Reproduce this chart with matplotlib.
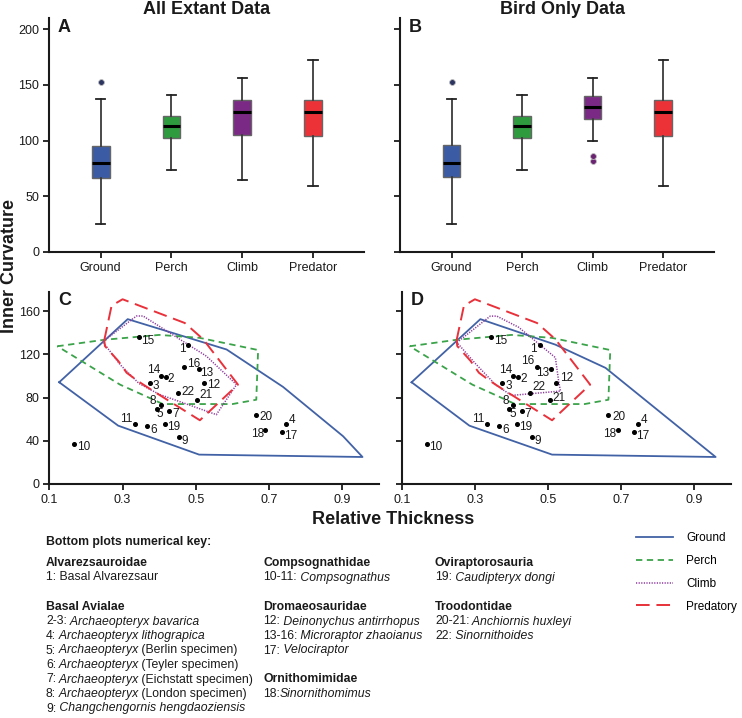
import matplotlib
matplotlib.use('Agg')
import matplotlib.pyplot as plt

plt.rcParams['font.family'] = ['Liberation Sans', 'DejaVu Sans']

# ---------------- data ----------------
categories = ['Ground', 'Perch', 'Climb', 'Predator']
box_colors = ['#3B5BA5', '#2E9B3F', '#7A2A85', '#EC3237']
flier_colors = ['#2C3560', '#2E9B3F', '#6A2370', '#EC3237']

# Panel A: all extant data
a_whislo = [25, 74, 65, 59]
a_q1 = [66, 102, 105, 104]
a_med = [80, 113, 126, 126]
a_q3 = [95, 122, 136, 136]
a_whishi = [137, 141, 156, 172]
a_fliers = [[153], [], [], []]

# Panel B: bird only data
b_whislo = [25, 74, 100, 59]
b_q1 = [67, 102, 119, 104]
b_med = [80, 113, 130, 126]
b_q3 = [96, 122, 140, 136]
b_whishi = [137, 141, 156, 172]
b_fliers = [[153], [], [82, 86], []]

# Fossil specimens (bottom panels)
pt_labels = ['1', '2', '3', '4', '5', '6', '7', '8', '9', '10', '11',
             '12', '13', '14', '15', '16', '17', '18', '19', '20', '21', '22']
pt_x = [0.479, 0.419, 0.375, 0.747, 0.393, 0.366, 0.428, 0.405, 0.455, 0.168, 0.333,
        0.523, 0.508, 0.405, 0.345, 0.469, 0.736, 0.690, 0.415, 0.665, 0.504, 0.451]
pt_y = [128.5, 99.2, 93.3, 55.3, 69.5, 54.0, 68.0, 72.9, 43.9, 37.4, 55.9,
        93.9, 106.0, 99.8, 136.5, 108.4, 48.2, 50.3, 55.3, 64.2, 78.1, 84.0]

# Convex hulls of extant groups
c_ground_x = [0.127, 0.314, 0.584, 0.738, 0.902, 0.955, 0.509, 0.288]
c_ground_y = [94.2, 152.6, 124.5, 89.9, 44.2, 25.0, 27.2, 54.0]
d_ground_x = [0.127, 0.315, 0.520, 0.657, 0.958, 0.511, 0.285]
d_ground_y = [94.2, 152.6, 129.0, 107.5, 25.0, 27.2, 54.0]

perch_x = [0.122, 0.250, 0.400, 0.510, 0.670, 0.665, 0.600, 0.410, 0.365, 0.293]
perch_y = [127.5, 133.5, 138.0, 135.3, 124.0, 78.0, 74.0, 74.0, 81.0, 92.0]

pred_x = [0.250, 0.270, 0.300, 0.470, 0.520, 0.615, 0.511, 0.384, 0.343, 0.311, 0.288, 0.252]
pred_y = [133.0, 165.0, 171.0, 149.0, 134.0, 92.0, 59.0, 86.0, 95.0, 103.0, 114.0, 127.6]

c_climb_x = [0.247, 0.338, 0.356, 0.529, 0.611, 0.556, 0.400, 0.345, 0.293, 0.252]
c_climb_y = [132.0, 155.5, 155.5, 118.3, 92.0, 64.2, 83.0, 93.0, 110.6, 129.0]
d_climb_x = [0.251, 0.342, 0.360, 0.420, 0.520, 0.529, 0.534, 0.400, 0.356, 0.300]
d_climb_y = [131.0, 155.4, 155.4, 145.0, 117.0, 95.0, 86.0, 82.0, 92.0, 112.0]

legend_labels = ['Ground', 'Perch', 'Climb', 'Predatory']

# ---------------- layout ----------------
W, H = 742, 718
fig = plt.figure(figsize=(W / 100, H / 100), dpi=100)


def rect(l, t, r, b):
    return [l / W, 1 - b / H, (r - l) / W, (b - t) / H]


axA = fig.add_axes(rect(49, 18, 364, 252))
axB = fig.add_axes(rect(400, 18, 714, 252))
axC = fig.add_axes(rect(49.3, 291.7, 379, 484))
axD = fig.add_axes(rect(401.7, 291.7, 731, 484))

TXT = '#1a1a1a'
for ax in (axA, axB, axC, axD):
    for s in ('top', 'right'):
        ax.spines[s].set_visible(False)
    for s in ('left', 'bottom'):
        ax.spines[s].set_linewidth(1.5)
        ax.spines[s].set_color('#1a1a1a')
    ax.tick_params(direction='out', length=4, width=1.3, labelsize=9,
                   colors='#1a1a1a', labelcolor=TXT, pad=3)


def draw_box(ax, lo, q1, med, q3, hi, fl):
    stats = []
    for i, c in enumerate(categories):
        stats.append(dict(label=c, whislo=lo[i], q1=q1[i], med=med[i],
                          q3=q3[i], whishi=hi[i], fliers=fl[i]))
    bp = ax.bxp(stats, positions=[1, 2, 3, 4], widths=0.25, capwidths=0.13,
                patch_artist=True, showfliers=True,
                medianprops=dict(color='black', lw=2.2),
                whiskerprops=dict(color='#3a3a3a', lw=1.3),
                capprops=dict(color='#222222', lw=1.3),
                boxprops=dict(lw=1.0),
                flierprops=dict(marker='o', markersize=4.2, markeredgewidth=0.6))
    for patch, c in zip(bp['boxes'], box_colors):
        patch.set_facecolor(c)
        patch.set_edgecolor('#666666')
    for f, c in zip(bp['fliers'], flier_colors):
        f.set_markerfacecolor(c)
        f.set_markeredgecolor('#bbbbbb')
    ax.set_xlim(0.27, 4.72)
    ax.set_ylim(0, 210)
    ax.set_yticks([0, 50, 100, 150, 200])


draw_box(axA, a_whislo, a_q1, a_med, a_q3, a_whishi, a_fliers)
draw_box(axB, b_whislo, b_q1, b_med, b_q3, b_whishi, b_fliers)
axB.tick_params(axis='y', labelleft=False)

fig.text(207 / W, 1 - 10 / H, 'All Extant Data', fontsize=13, fontweight='bold',
         ha='center', va='center', color=TXT)
fig.text(562 / W, 1 - 10 / H, 'Bird Only Data', fontsize=13, fontweight='bold',
         ha='center', va='center', color=TXT)

for ax, letter, yy in ((axA, 'A', 0.995), (axB, 'B', 0.995), (axC, 'C', 1.0), (axD, 'D', 1.0)):
    ax.text(0.028, yy, letter, transform=ax.transAxes, fontsize=13, fontweight='bold',
            ha='left', va='top', color=TXT)

# label offsets (points): (dx, dy, ha)
offs = {
    '1': (-2.0, -3.0, 'right'), '2': (1.2, -1.9, 'left'), '3': (2.1, -2.2, 'left'),
    '4': (1.4, 3.4, 'left'), '5': (0.2, -4.0, 'left'), '6': (2.4, -3.4, 'left'),
    '7': (2.0, -2.4, 'left'), '8': (-3.4, 2.9, 'right'), '9': (1.9, -3.4, 'left'),
    '10': (1.7, -2.4, 'left'), '11': (-1.7, 3.4, 'right'), '12': (1.7, -1.9, 'left'),
    '13': (1.2, -2.4, 'left'), '14': (-0.5, 4.8, 'right'), '15': (1.7, -3.4, 'left'),
    '16': (1.7, 2.4, 'left'), '17': (1.4, -3.1, 'left'), '18': (-1.0, -2.9, 'right'),
    '19': (1.7, -1.9, 'left'), '20': (2.6, -1.7, 'left'), '21': (1.4, 3.6, 'left'),
    '22': (2.4, 1.0, 'left'),
}
offs_d = dict(offs)
offs_d.update({
    '1': (-2.6, -3.0, 'right'), '16': (-1.8, 4.6, 'right'), '13': (-1.2, -2.4, 'right'),
    '12': (2.4, 3.1, 'left'), '22': (1.7, 4.3, 'left'), '21': (1.9, 1.4, 'left'),
})

GROUND_C = '#4262A6'
PERCH_C = '#3BA34A'
CLIMB_C = '#8E3A9E'
PRED_C = '#E8313A'


def closed(xs, ys):
    return list(xs) + [xs[0]], list(ys) + [ys[0]]


def draw_scatter(ax, gx, gy, cx, cy, off):
    handles = []
    x, y = closed(gx, gy)
    h, = ax.plot(x, y, color=GROUND_C, lw=1.3)
    handles.append(h)
    x, y = closed(perch_x, perch_y)
    h, = ax.plot(x, y, color=PERCH_C, lw=1.3, dashes=(3.5, 2.5))
    handles.append(h)
    x, y = closed(cx, cy)
    h, = ax.plot(x, y, color=CLIMB_C, lw=1.1, dashes=(0.8, 0.9))
    handles.append(h)
    x, y = closed(pred_x, pred_y)
    h, = ax.plot(x, y, color=PRED_C, lw=1.4, dashes=(7, 3.5))
    handles.append(h)
    ax.plot(pt_x, pt_y, 'o', color='black', ms=2.6, zorder=5)
    for lab, px, py in zip(pt_labels, pt_x, pt_y):
        dx, dy, ha = off[lab]
        ax.annotate(lab, (px, py), xytext=(dx, dy), textcoords='offset points',
                    ha=ha, va='center', fontsize=8.5, color=TXT)
    ax.set_xlim(0.1, 1.0)
    ax.set_ylim(0, 178)
    ax.set_xticks([0.1, 0.3, 0.5, 0.7, 0.9])
    ax.set_xticklabels(['0.1', '0.3', '0.5', '0.7', '0.9'])
    ax.set_yticks([0, 40, 80, 120, 160])
    return handles


handles = draw_scatter(axC, c_ground_x, c_ground_y, c_climb_x, c_climb_y, offs)
draw_scatter(axD, d_ground_x, d_ground_y, d_climb_x, d_climb_y, offs_d)
axD.tick_params(axis='y', labelleft=False)

fig.text(10 / W, 1 - 266 / H, 'Inner Curvature', rotation=90, fontsize=13,
         fontweight='bold', ha='center', va='center', color=TXT)
fig.text(393 / W, 1 - 519 / H, 'Relative Thickness', fontsize=13,
         fontweight='bold', ha='center', va='center', color=TXT)

fig.legend(handles, legend_labels, loc='upper left',
           bbox_to_anchor=(636 / W, 1 - 532 / H), frameon=False, fontsize=8.5,
           handlelength=3.1, handletextpad=1.15, labelspacing=0.92,
           borderpad=0, borderaxespad=0)

# ---------------- numerical key ----------------
KS = 8.8


def key_line(x, y, segs):
    t = None
    for s, style in segs:
        kw = dict(fontsize=KS, color=TXT, va='center', ha='left')
        if style == 'b':
            kw['fontweight'] = 'bold'
        elif style == 'i':
            kw['fontstyle'] = 'italic'
        if t is None:
            t = fig.text(x / W, 1 - y / H, s, **kw)
        else:
            t = fig.add_artist(plt.Annotation(s, xy=(1, 0.5), xycoords=t, **kw))
    return t


key_rows = [
    (46, 542, [('Bottom plots numerical key:', 'b')]),
    (46, 563, [('Alvarezsauroidae', 'b')]),
    (46, 577.5, [('1: Basal Alvarezsaur', 'n')]),
    (46, 607, [('Basal Avialae', 'b')]),
    (46, 621.5, [('2-3:', 'n'), (' Archaeopteryx bavarica', 'i')]),
    (46, 636, [('4:', 'n'), (' Archaeopteryx lithograpica', 'i')]),
    (46, 650.5, [('5:', 'n'), (' Archaeopteryx', 'i'), (' (Berlin specimen)', 'n')]),
    (46, 665, [('6:', 'n'), (' Archaeopteryx', 'i'), (' (Teyler specimen)', 'n')]),
    (46, 679.5, [('7:', 'n'), (' Archaeopteryx', 'i'), (' (Eichstatt specimen)', 'n')]),
    (46, 694, [('8:', 'n'), (' Archaeopteryx', 'i'), (' (London specimen)', 'n')]),
    (46, 708.5, [('9:', 'n'), (' Changchengornis hengdaoziensis', 'i')]),
    (263, 563, [('Compsognathidae', 'b')]),
    (263, 577.5, [('10-11:', 'n'), (' Compsognathus', 'i')]),
    (263, 607, [('Dromaeosauridae', 'b')]),
    (263, 621.5, [('12:', 'n'), (' Deinonychus antirrhopus', 'i')]),
    (263, 636, [('13-16:', 'n'), (' Microraptor zhaoianus', 'i')]),
    (263, 650.5, [('17:', 'n'), (' Velociraptor', 'i')]),
    (263, 679.5, [('Ornithomimidae', 'b')]),
    (263, 694, [('18:', 'n'), ('Sinornithomimus', 'i')]),
    (435, 563, [('Oviraptorosauria', 'b')]),
    (435, 577.5, [('19:', 'n'), (' Caudipteryx dongi', 'i')]),
    (435, 607, [('Troodontidae', 'b')]),
    (435, 621.5, [('20-21:', 'n'), (' Anchiornis huxleyi', 'i')]),
    (435, 636, [('22:', 'n'), (' Sinornithoides', 'i')]),
]
for x, y, segs in key_rows:
    key_line(x, y, segs)

fig.savefig('out.png', dpi=100)
